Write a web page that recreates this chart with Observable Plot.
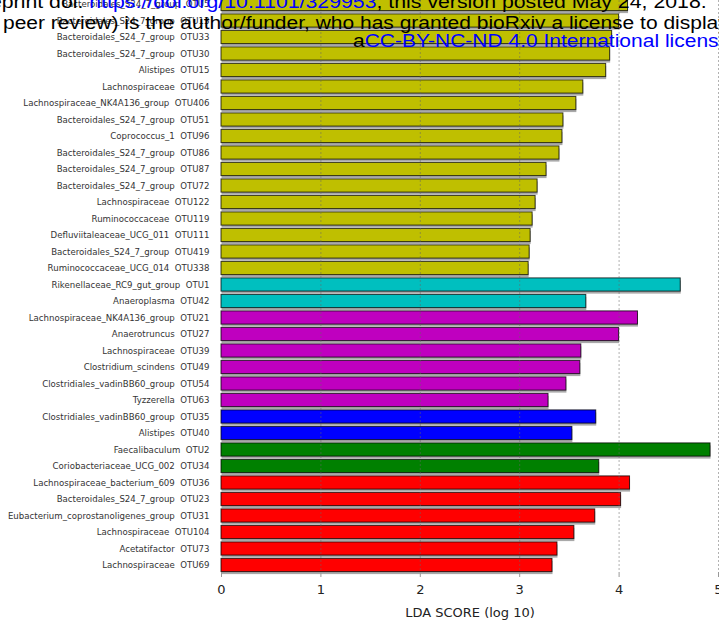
<!DOCTYPE html>
<html>
<head>
<meta charset="utf-8">
<script src="https://cdn.jsdelivr.net/npm/d3@7"></script>
<script src="https://cdn.jsdelivr.net/npm/@observablehq/plot@0.6"></script>
<style>
  html, body { margin: 0; padding: 0; background: #fff; }
  #wrap { position: relative; width: 719px; height: 623px; overflow: hidden; }
  #wrap > svg.plot { position: absolute; left: 0; top: 0; }
  #wrap > svg.plot g[aria-label="y-axis tick label"] text { white-space: pre; }
  #stamp { position: absolute; left: 0; top: 0; pointer-events: none; }
</style>
</head>
<body>
<div id="wrap"></div>
<script>
// OTU labels, top to bottom (taxon and OTU id separated by two spaces)
const labels = [
  "Bacteroidales_S24_7_group  OTU5",
  "Bacteroidales_S24_7_group  OTU13",
  "Bacteroidales_S24_7_group  OTU33",
  "Bacteroidales_S24_7_group  OTU30",
  "Alistipes  OTU15",
  "Lachnospiraceae  OTU64",
  "Lachnospiraceae_NK4A136_group  OTU406",
  "Bacteroidales_S24_7_group  OTU51",
  "Coprococcus_1  OTU96",
  "Bacteroidales_S24_7_group  OTU86",
  "Bacteroidales_S24_7_group  OTU87",
  "Bacteroidales_S24_7_group  OTU72",
  "Lachnospiraceae  OTU122",
  "Ruminococcaceae  OTU119",
  "Defluviitaleaceae_UCG_011  OTU111",
  "Bacteroidales_S24_7_group  OTU419",
  "Ruminococcaceae_UCG_014  OTU338",
  "Rikenellaceae_RC9_gut_group  OTU1",
  "Anaeroplasma  OTU42",
  "Lachnospiraceae_NK4A136_group  OTU21",
  "Anaerotruncus  OTU27",
  "Lachnospiraceae  OTU39",
  "Clostridium_scindens  OTU49",
  "Clostridiales_vadinBB60_group  OTU54",
  "Tyzzerella  OTU63",
  "Clostridiales_vadinBB60_group  OTU35",
  "Alistipes  OTU40",
  "Faecalibaculum  OTU2",
  "Coriobacteriaceae_UCG_002  OTU34",
  "Lachnospiraceae_bacterium_609  OTU36",
  "Bacteroidales_S24_7_group  OTU23",
  "Eubacterium_coprostanoligenes_group  OTU31",
  "Lachnospiraceae  OTU104",
  "Acetatifactor  OTU73",
  "Lachnospiraceae  OTU69"
];

// LDA score (log 10) for each OTU, same order
const lda = [
  4.09, 4.00, 3.93, 3.91, 3.87, 3.64, 3.57, 3.44, 3.43, 3.40,
  3.27, 3.18, 3.16, 3.13, 3.11, 3.10, 3.09,
  4.62, 3.67,
  4.19, 4.00, 3.62, 3.61, 3.47, 3.29,
  3.77, 3.53,
  4.92, 3.80,
  4.11, 4.02, 3.76, 3.55, 3.38, 3.33
];

// class colours and how many consecutive OTUs belong to each class
const classColors = ["#bfbf00", "#00bfbf", "#bf00bf", "#0000ff", "#008000", "#ff0000"];
const classCounts = [17, 2, 6, 2, 2, 6];

const xTicks = [0, 1, 2, 3, 4, 5];
const gridTicks = [1, 2, 3, 4, 5];

const rowClass = classCounts.flatMap((n, i) => Array(n).fill(i));
const rows = labels.map((name, i) => ({name, lda: lda[i], color: classColors[rowClass[i]]}));

const W = 719, H = 623;
const rowStep = 16.5;
const yTop = 4 - rowStep / 2;

const chart = Plot.plot({
  width: W,
  height: H,
  marginLeft: 221,
  marginRight: 1,
  marginTop: 0,
  marginBottom: 51,
  style: {fontFamily: "DejaVu Sans, sans-serif", background: "transparent", overflow: "hidden"},
  x: {domain: [0, 5]},
  y: {
    type: "band",
    domain: labels,
    range: [yTop, yTop + rowStep * labels.length],
    round: false,
    paddingInner: 0.2,
    paddingOuter: 0.1
  },
  marks: [
    // soft drop shadow under each bar
    Plot.barX(rows, {x: "lda", y: "name", fill: "#8c8c8c", fillOpacity: 0.75, dy: 2.5, dx: 0.5}),
    Plot.barX(rows, {x: "lda", y: "name", fill: "color", stroke: "#000", strokeOpacity: 0.75, strokeWidth: 1}),
    Plot.ruleX(gridTicks, {stroke: "#666", strokeOpacity: 0.5, strokeDasharray: "2,2", strokeWidth: 1}),
    Plot.axisY({tickSize: 0, tickPadding: 12, fontSize: 8.6, fill: "#333", label: null}),
    Plot.axisX({
      ticks: xTicks,
      tickFormat: d3.format("d"),
      tickSize: 5,
      tickPadding: 7,
      stroke: "#999",
      fontSize: 13,
      fill: "#222",
      label: "LDA SCORE (log 10)",
      labelAnchor: "center",
      labelArrow: "none",
      labelOffset: 44
    })
  ]
});
chart.classList.add("plot");
document.getElementById("wrap").appendChild(chart);

// bioRxiv preprint notice printed across the top of the page
const stamp = d3.select("#wrap").append("svg")
  .attr("id", "stamp")
  .attr("width", W)
  .attr("height", 60)
  .style("font-family", "'Liberation Sans', Arial, sans-serif")
  .style("font-size", "21px");

const notice = [
  {x: -29, y: 7.5, size: 21.3, parts: [["preprint doi: ", "#000"], ["https://doi.org/10.1101/329953", "#0000ff"], [", this version posted May 24, 2018.", "#000"]]},
  {x: 3, y: 29, size: 21, parts: [["peer review) is the author/funder, who has granted bioRxiv a license to display the preprint in perpetuity.", "#000"]]},
  {x: 353, y: 47.5, size: 21, parts: [["a", "#000"], ["CC-BY-NC-ND 4.0 International license", "#0000ff"], [".", "#000"]]}
];

notice.forEach(line => {
  const t = stamp.append("text")
    .attr("x", line.x)
    .attr("y", line.y)
    .style("font-size", line.size + "px")
    .attr("transform", `translate(0,${line.y}) scale(1,0.9) translate(0,${-line.y})`);
  line.parts.forEach(([s, c]) => t.append("tspan").attr("fill", c).text(s));
});
</script>
</body>
</html>
